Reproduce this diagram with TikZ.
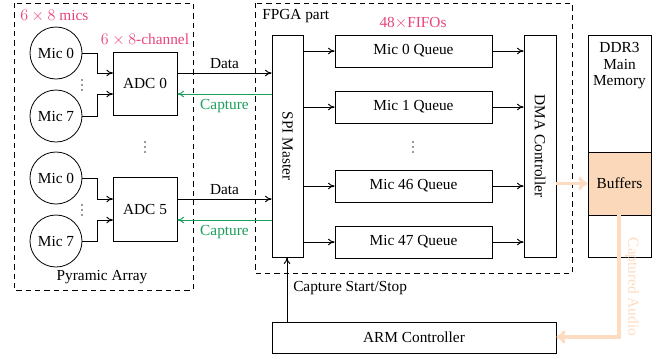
\documentclass[tikz,border=0pt]{standalone}
\usepackage{fontspec}
\setmainfont{Liberation Serif}
\usetikzlibrary{arrows.meta}
\definecolor{pinkc}{HTML}{E8447C}
\definecolor{greenc}{HTML}{1A9E5A}
\definecolor{peach}{HTML}{FBD8B9}
\definecolor{peachline}{HTML}{FDDCC2}
\begin{document}
\begin{tikzpicture}[x=0.75pt,y=-0.75pt,
  every node/.style={font=\fontsize{11.5}{13}\selectfont, inner sep=0pt},
  mic/.style={draw, circle, minimum size=52*0.75pt, line width=0.6pt},
  blk/.style={draw, rectangle, line width=0.6pt},
  conn/.style={line width=0.7pt, -{To[length=5pt,width=5pt]}},
  grp/.style={draw, dashed, line width=0.6pt, dash pattern=on 4pt off 3pt},
  lbl/.style={font=\fontsize{11.5}{13}\selectfont},
  pinklbl/.style={text=pinkc, font=\fontsize{11.5}{13}\selectfont},
  bigarrow/.style={draw=peachline, line width=2.4pt, -{To[length=7pt,width=10pt]}},
  dotsm/.style={fill=black!80, circle, minimum size=1.3pt}
]
\useasboundingbox (0,0) rectangle (668,358);
% groups
\draw[grp] (14,3) rectangle (193,290);
\draw[grp] (255,3) rectangle (572,273);
\node[pinklbl, anchor=west] (t1) at (20,16) {$6\times 8$ mics};
\node[pinklbl] (t2) at (145,40) {$6\times 8$-channel};
\node[lbl] (pa) at (102,277) {Pyramic Array};
\node[lbl, anchor=west] (fp) at (262,16) {FPGA part};
\node[pinklbl] (ff) at (413,23) {48$\times$FIFOs};
% mics
\node[mic] (m0a) at (56,53) {Mic 0};
\node[mic] (m7a) at (56,116) {Mic 7};
\node[mic] (m0b) at (56,178) {Mic 0};
\node[mic] (m7b) at (56,241) {Mic 7};
\node[blk, minimum width=64*0.75pt, minimum height=63*0.75pt] (adc0) at (145,83.5) {ADC 0};
\node[blk, minimum width=64*0.75pt, minimum height=64*0.75pt] (adc5) at (145,209) {ADC 5};
\foreach \yy in {80,85,90}{\node[dotsm] at (82,\yy) {};}
\foreach \yy in {205,210,215}{\node[dotsm] at (82,\yy) {};}
\foreach \yy in {142,147,152}{\node[dotsm] at (145,\yy) {};}
\foreach \yy in {142,147,152}{\node[dotsm] at (413,\yy) {};}
\coordinate (a0in) at (113,73);
\coordinate (a7in) at (113,94);
\coordinate (b0in) at (113,199);
\coordinate (b7in) at (113,220);
\draw[conn] (m0a.east) -| (97,73) -- (a0in);
\draw[conn] (m7a.east) -| (97,94) -- (a7in);
\draw[conn] (m0b.east) -| (97,199) -- (b0in);
\draw[conn] (m7b.east) -| (97,220) -- (b7in);
% FPGA
\node[blk, minimum width=31*0.75pt, minimum height=222*0.75pt] (spi) at (287.5,146) {};
\node[rotate=-90] (spit) at (spi.center) {SPI Master};
\node[blk, minimum width=32*0.75pt, minimum height=222*0.75pt] (dma) at (540,146) {};
\node[rotate=-90] (dmat) at (dma.center) {DMA Controller};
\foreach \n/\y/\t in {q0/51/Mic 0 Queue, q1/107/Mic 1 Queue, q46/186/Mic 46 Queue, q47/242/Mic 47 Queue}{
  \node[blk, minimum width=157*0.75pt, minimum height=32*0.75pt] (\n) at (413.5,\y) {\t};
  \draw[conn] (spi.east |- \n.west) -- (\n.west);
  \draw[conn] (\n.east) -- (dma.west |- \n.east);
}
% data / capture
\draw[conn] (adc0.east |- 0,73) -- (spi.west |- 0,73) node[midway, above=3pt, lbl] (dl1) {Data};
\draw[conn, draw=greenc] (spi.west |- 0,94) -- (adc0.east |- 0,94) node[midway, below=4pt, text=greenc] (cl1) {Capture};
\draw[conn] (adc5.east |- 0,199) -- (spi.west |- 0,199) node[midway, above=3pt, lbl] (dl2) {Data};
\draw[conn, draw=greenc] (spi.west |- 0,220) -- (adc5.east |- 0,220) node[midway, below=4pt, text=greenc] (cl2) {Capture};
% DDR3
\node[blk, minimum width=63*0.75pt, minimum height=222*0.75pt] (ddr) at (619.5,146) {};
\node[blk, fill=peach, minimum width=63*0.75pt, minimum height=63*0.75pt] (buf) at (619.5,183.5) {Buffers};
\node[align=center, font=\fontsize{11.5}{12.5}\selectfont, anchor=north] (ddrt) at (619.5,42) {DDR3\\Main\\Memory};
% ARM
\node[blk, minimum width=284*0.75pt, minimum height=31*0.75pt] (arm) at (414,337.5) {ARM Controller};
\draw[conn] (arm.north -| 287,0) -- (spi.south -| 287,0);
\node[anchor=west] (cs) at (293,288) {Capture Start/Stop};
% peach arrows
\draw[bigarrow] (dma.east |- buf.west) -- (buf.west);
\draw[bigarrow] (buf.south -| 619,0) -- (619,337) -- (arm.east |- 0,337);
\node[rotate=-90, text=peachline] (ca) at (632,287) {Captured Audio};
\end{tikzpicture}
\end{document}
